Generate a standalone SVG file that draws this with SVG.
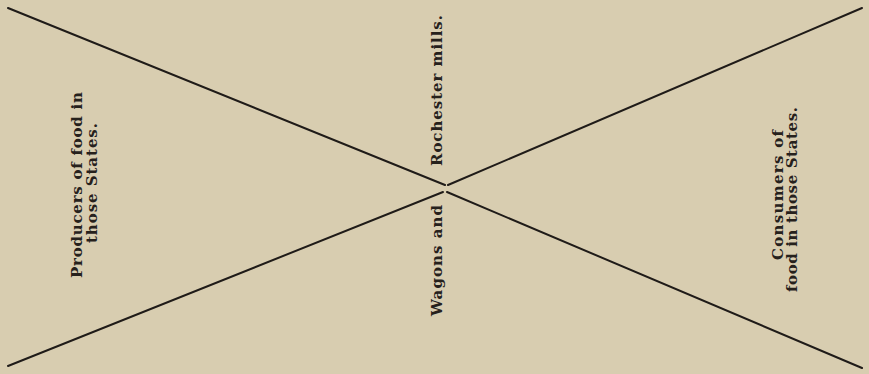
<svg xmlns="http://www.w3.org/2000/svg" width="869" height="374" viewBox="0 0 869 374">
<style>
.bg{fill:#d8cdb0}
.ln{stroke:#1f1b18;stroke-width:2;fill:none;stroke-linecap:round}
.t{font-family:"DejaVu Serif","Liberation Serif",serif;font-size:15px;font-weight:bold;fill:#26211c;text-anchor:middle}
</style>
<rect class="bg" x="0" y="0" width="869" height="374"/>
<g id="connectors">
<line class="ln" x1="8" y1="8" x2="445" y2="185"/>
<line class="ln" x1="8" y1="366" x2="443" y2="192"/>
<line class="ln" x1="448" y1="185" x2="862" y2="8"/>
<line class="ln" x1="447" y1="192" x2="862" y2="368"/>
</g>
<g id="producers">
<text class="t" transform="translate(82,185) rotate(-90)" textLength="186" lengthAdjust="spacing">Producers of food in</text>
<text class="t" transform="translate(97,183) rotate(-90)" textLength="120" lengthAdjust="spacing">those States.</text>
</g>
<g id="rochester">
<text class="t" transform="translate(442,90.5) rotate(-90)" textLength="151" lengthAdjust="spacing">Rochester mills.</text>
</g>
<g id="wagons">
<text class="t" transform="translate(442,260.5) rotate(-90)" textLength="111" lengthAdjust="spacing">Wagons and</text>
</g>
<g id="consumers">
<text class="t" transform="translate(783,195) rotate(-90)" textLength="130" lengthAdjust="spacing">Consumers of</text>
<text class="t" transform="translate(797,199.5) rotate(-90)" textLength="185" lengthAdjust="spacing">food in those States.</text>
</g>
</svg>
